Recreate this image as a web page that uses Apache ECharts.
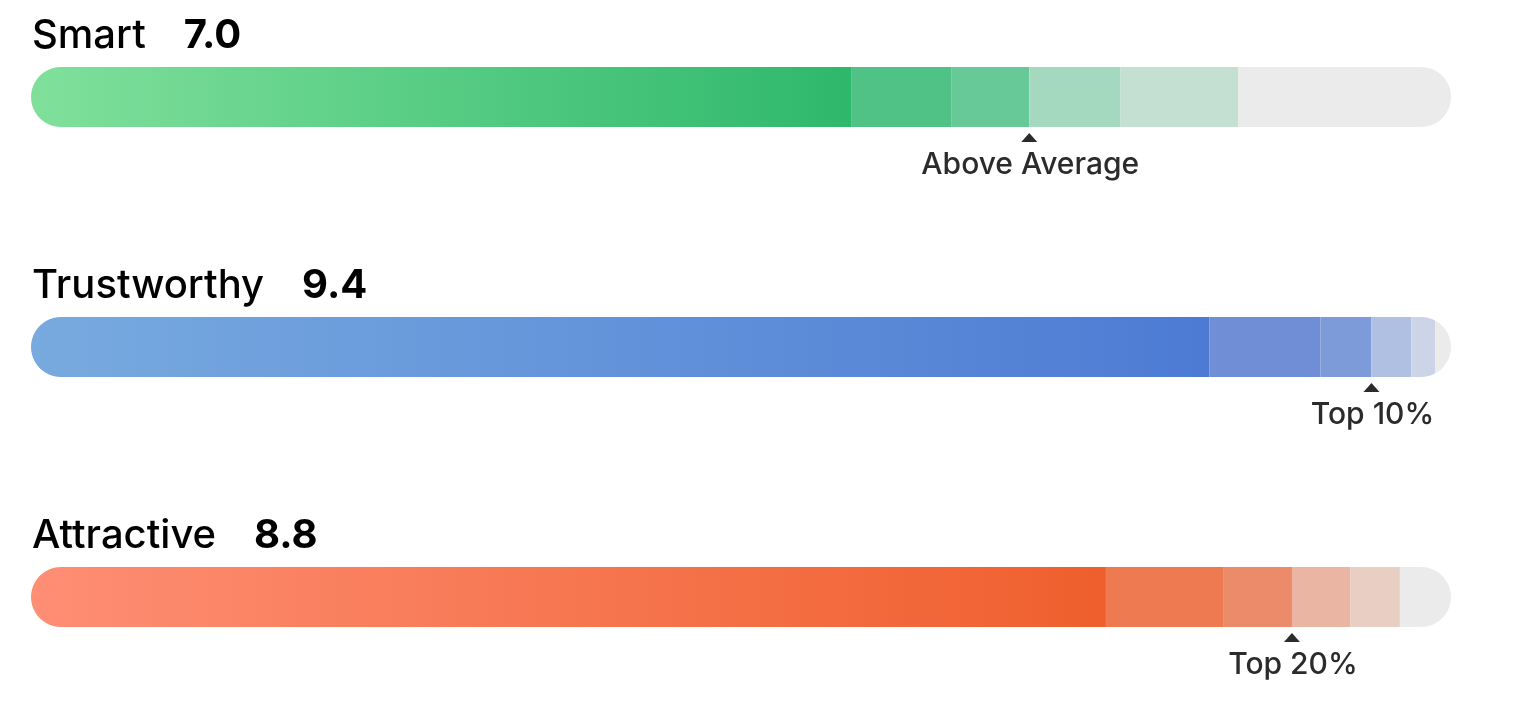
<!DOCTYPE html>
<html>
<head>
<meta charset="utf-8">
<script src="https://cdn.jsdelivr.net/npm/echarts@6/dist/echarts.min.js"></script>
<style>
  html, body { margin: 0; padding: 0; background: #ffffff; }
  #chart { width: 1520px; height: 704px; }
</style>
</head>
<body>
<div id="chart"></div>
<script>
// ---- data ----
const categories = ['Smart', 'Trustworthy', 'Attractive'];
const scoreLabels = ['7.0', '9.4', '8.8'];
const ratingLabels = ['Above Average', 'Top 10%', 'Top 20%'];
// stacked segment widths on a 0-10 scale (marker sits after the 3rd segment)
const smartSegments = [5.78, 0.70, 0.55, 0.64, 0.83, 1.50];
const trustworthySegments = [8.30, 0.78, 0.36, 0.28, 0.17, 0.11];
const attractiveSegments = [7.57, 0.83, 0.48, 0.41, 0.35, 0.36];
const markerAfterSegment = 3;
const scaleMax = 10;

// ---- styles ----
const segmentsByRow = [smartSegments, trustworthySegments, attractiveSegments];
const gradientColors = [
  ['#80e09b', '#2eb86c'],
  ['#78aadf', '#4d7bd4'],
  ['#fe8e74', '#ef5f2d']
];
const segmentColors = [
  ['#50c286', '#67c898', '#a5d9bf', '#c3e0d3', '#ebebeb'],
  ['#6f8ed6', '#7e9bd9', '#b0c0e2', '#ccd5e7', '#ebebeb'],
  ['#ee7a52', '#ec8b69', '#eab6a3', '#e9cec4', '#ebebeb']
];
const textColor = '#2b2b2b';
const fontFamily = 'Inter, "Noto Sans", sans-serif';
const barHeight = 60;
const rowTop = 67, rowGap = 250, plotLeft = 31, plotWidth = 1420;

const chart = echarts.init(document.getElementById('chart'), null, { renderer: 'canvas' });

const grid = [], xAxis = [], yAxis = [], series = [];
categories.forEach((cat, i) => {
  grid.push({ left: plotLeft, width: plotWidth, top: rowTop + rowGap * i, height: barHeight, containLabel: false });
  xAxis.push({ type: 'value', gridIndex: i, min: 0, max: scaleMax, show: false });
  yAxis.push({ type: 'category', gridIndex: i, data: [cat], show: false });

  const segs = segmentsByRow[i];
  segs.forEach((v, j) => {
    series.push({
      type: 'bar',
      xAxisIndex: i, yAxisIndex: i,
      stack: 'row' + i,
      barWidth: barHeight,
      silent: true,
      animation: false,
      data: [v],
      itemStyle: {
        color: j === 0
          ? new echarts.graphic.LinearGradient(0, 0, 1, 0, [
              { offset: 0, color: gradientColors[i][0] },
              { offset: 1, color: gradientColors[i][1] }
            ])
          : segmentColors[i][j - 1]
      }
    });
  });

  const markerValue = segs.slice(0, markerAfterSegment).reduce((a, b) => a + b, 0);

  series.push({
    type: 'custom',
    xAxisIndex: i, yAxisIndex: i,
    silent: true,
    animation: false,
    clip: false,
    z: 10,
    data: [[markerValue, 0]],
    renderItem: function (params, api) {
      const left = api.coord([0, 0]);
      const right = api.coord([scaleMax, 0]);
      const mk = api.coord([api.value(0), 0]);
      const cy = left[1];
      const L = left[0], R = right[0];
      const r = barHeight / 2;
      const top = cy - r, bottom = cy + r;
      const n = 24;
      // white masks outside the rounded ends
      const lp = [[L - 2, top - 1]];
      for (let k = 0; k <= n; k++) {
        const t = (270 - 180 * k / n) * Math.PI / 180;
        lp.push([L + r + r * Math.cos(t), cy + r * Math.sin(t)]);
      }
      lp.push([L - 2, bottom + 1]);
      const rp = [[R + 2, top - 1]];
      for (let k = 0; k <= n; k++) {
        const t = (-90 + 180 * k / n) * Math.PI / 180;
        rp.push([R - r + r * Math.cos(t), cy + r * Math.sin(t)]);
      }
      rp.push([R + 2, bottom + 1]);
      return {
        type: 'group',
        children: [
          { type: 'polygon', shape: { points: lp }, style: { fill: '#ffffff' } },
          { type: 'polygon', shape: { points: rp }, style: { fill: '#ffffff' } },
          {
            type: 'polygon',
            shape: { points: [[mk[0] - 8, bottom + 15], [mk[0] + 8, bottom + 15], [mk[0], bottom + 6]] },
            style: { fill: textColor }
          },
          {
            type: 'text',
            style: {
              text: ratingLabels[i],
              x: mk[0] + 1, y: bottom + 38,
              align: 'center', verticalAlign: 'middle',
              fill: textColor,
              font: '500 30px ' + fontFamily
            }
          },
          {
            type: 'text',
            style: {
              text: '{n|' + categories[i] + '}{s|' + scoreLabels[i] + '}',
              x: L + 1, y: top - 31,
              align: 'left', verticalAlign: 'middle',
              rich: {
                n: { fontSize: 40, fontWeight: 500, fontFamily: fontFamily, color: textColor, padding: [0, 38, 0, 0] },
                s: { fontSize: 40, fontWeight: 700, fontFamily: fontFamily, color: textColor }
              }
            }
          }
        ]
      };
    }
  });
});

chart.setOption({
  animation: false,
  backgroundColor: '#ffffff',
  grid, xAxis, yAxis, series
});
</script>
</body>
</html>
